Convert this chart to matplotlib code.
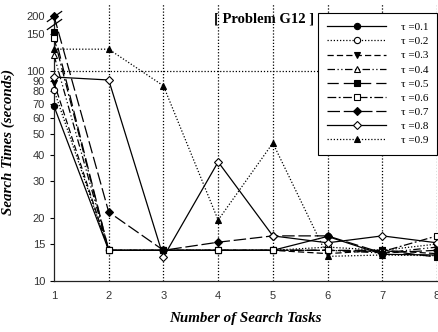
import numpy as np
import matplotlib
matplotlib.use('Agg')
import matplotlib.pyplot as plt

tasks = [1, 2, 3, 4, 5, 6, 7, 8]
taus = ['0.1', '0.2', '0.3', '0.4', '0.5', '0.6', '0.7', '0.8', '0.9']

t01 = [68, 14, 14, 14, 14, 16.3, 13.4, 13.3]
t02 = [81, 14, 14, 14, 14, 14.5, 14.0, 15.0]
t03 = [88, 14, 14, 14, 14, 13.5, 14.0, 13.5]
t04 = [119, 14, 14, 14, 14, 14.0, 13.6, 14.5]
t05 = [155, 14, 14, 14, 14, 14.0, 14.0, 13.0]
t06 = [144, 14, 14, 14, 14, 14.0, 13.8, 16.4]
t07 = [200, 21.3, 14, 15.3, 16.4, 16.4, 13.6, 14.0]
t08 = [93.6, 90.6, 13.0, 36.9, 16.4, 15.2, 16.4, 15.2]
t09 = [127, 127, 85, 19.5, 45.4, 13.1, 13.3, 13.2]

y_ticks = [10, 15, 20, 30, 40, 50, 60, 70, 80, 90, 100, 150, 200]

# log axis, squeezed above 150 (axis break)
B = np.log10(150)
K = 0.686


def fwd(v):
    l = np.log10(np.clip(np.asarray(v, dtype=float), 1e-6, None))
    return np.where(l > B, B + (l - B) * K, l)


def inv(t):
    t = np.asarray(t, dtype=float)
    return 10 ** np.where(t > B, B + (t - B) / K, t)


styles = [
    ('-', 'o', 'k'),
    ((0, (1, 1.5)), 'o', 'w'),
    ((0, (5, 2.5)), 'v', 'k'),
    ((0, (6, 2, 1, 2, 1, 2)), '^', 'w'),
    ((0, (9, 4)), 's', 'k'),
    ((0, (7, 2, 1.5, 2)), 's', 'w'),
    ((0, (10, 3)), 'D', 'k'),
    ('-', 'D', 'w'),
    ((0, (1, 1.5)), '^', 'k'),
]
series = [t01, t02, t03, t04, t05, t06, t07, t08, t09]

fig = plt.figure(figsize=(4.39, 3.32), dpi=100)
ax = fig.add_axes([54 / 439, 1 - 281 / 332, 383 / 439, 278 / 332])
ax.set_yscale('function', functions=(fwd, inv))

for vals, tau, (ls, mk, fc) in zip(series, taus, styles):
    ms = 4.0 if mk == 'D' else 4.5
    ax.plot(tasks, vals, linestyle=ls, color='k', linewidth=0.9,
            marker=mk, markersize=ms, markerfacecolor=fc,
            markeredgecolor='k', markeredgewidth=0.8,
            label='\u03c4 =' + tau, clip_on=False, zorder=3)

top = float(inv(fwd(200) + 13 / 210))
ax.set_xlim(1, 8)
ax.set_ylim(10, top)

# dotted grid: verticals at each task, one horizontal at 100
for x in tasks[1:]:
    ax.axvline(x, color='k', linestyle=(0, (1, 1.5)), linewidth=0.9, zorder=1)
ax.axhline(100, color='k', linestyle=(0, (1, 1.5)), linewidth=0.9, zorder=1)

ax.set_yticks(y_ticks)
ax.set_yticklabels([str(v) for v in y_ticks])
ax.yaxis.set_minor_locator(matplotlib.ticker.NullLocator())
ax.set_xticks(tasks)
ax.tick_params(axis='both', labelsize=8, length=3, width=0.8, colors='k',
               labelcolor='#333333')
ax.tick_params(axis='x', length=0, pad=7)
for lab in ax.get_xticklabels() + ax.get_yticklabels():
    lab.set_fontfamily('Liberation Sans')

ax.spines['top'].set_visible(False)
ax.spines['right'].set_visible(False)
ax.spines['left'].set_bounds(10, 200)
for s in ('left', 'bottom'):
    ax.spines[s].set_linewidth(0.9)
    ax.spines[s].set_color('#222222')

# break marks on the y axis
slash = [(-1, -0.7), (1, 0.7)]
for yb in (176, 200):
    ax.plot([1], [yb], marker=slash, markersize=11, color='k',
            markeredgewidth=0.9, clip_on=False, zorder=4)

ax.set_xlabel('Number of Search Tasks', family='Liberation Serif',
              fontweight='bold', fontstyle='italic', fontsize=10.8, labelpad=8)
ax.set_ylabel('Search Times (seconds)', family='Liberation Serif',
              fontweight='bold', fontstyle='italic', fontsize=10.8, labelpad=8)

ax.text(0.548, 0.942, '[ Problem G12 ]', transform=ax.transAxes,
        family='Liberation Serif', fontweight='bold', fontsize=10.5,
        ha='center', va='center')

leg = ax.legend(loc='upper right', bbox_to_anchor=(437.5 / 439, 1 - 13 / 332),
                bbox_transform=fig.transFigure, borderaxespad=0,
                prop={'family': 'Liberation Serif', 'size': 8},
                handlelength=5.3, handletextpad=1.3, labelspacing=0.39,
                borderpad=0.85, fancybox=False, framealpha=1,
                edgecolor='k')
leg.get_frame().set_linewidth(0.8)
leg.set_zorder(5)

fig.savefig('out.png', dpi=100)
